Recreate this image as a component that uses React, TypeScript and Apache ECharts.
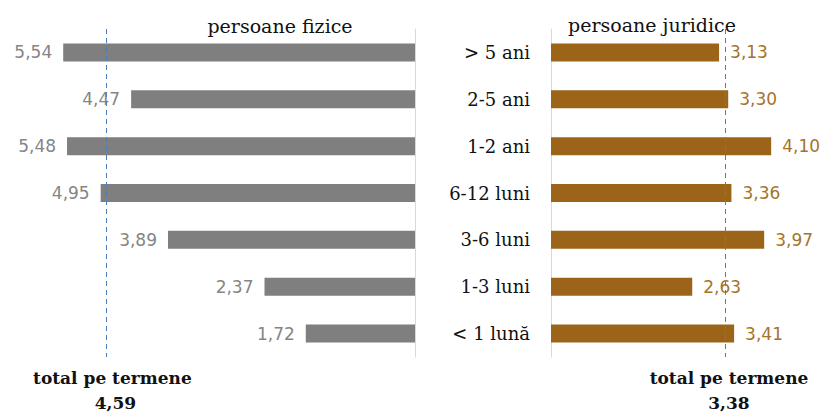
import React, { useEffect, useRef } from "react";
import * as echarts from "echarts";

const categories = ["> 5 ani", "2-5 ani", "1-2 ani", "6-12 luni", "3-6 luni", "1-3 luni", "< 1 lună"];
const fiziceValues = [5.54, 4.47, 5.48, 4.95, 3.89, 2.37, 1.72];
const juridiceValues = [3.13, 3.3, 4.1, 3.36, 3.97, 2.63, 3.41];
const panelTitles = ["persoane fizice", "persoane juridice"];
const totalLabel = "total pe termene";
const totals = [4.59, 3.38];
// position of the dashed reference lines as drawn in the source picture (read on each bar scale)
const markerPositions = [4.86, 3.24];

const fmt = (v: number) => v.toFixed(2).replace(".", ",");

const SERIF = "DejaVu Serif";
const SANS = "DejaVu Sans";

export default function App() {
  const ref = useRef<HTMLDivElement>(null);
  useEffect(() => {
    if (!ref.current) return;
    const chart = echarts.init(ref.current, null, { renderer: "svg" });
    const dash = {
      silent: true,
      symbol: "none",
      lineStyle: { color: "#4a7fbf", type: [5, 4] as any, width: 1 },
      label: { show: false },
    };
    chart.setOption({
      animation: false,
      grid: [
        { left: 34, width: 381, top: 29, height: 328 },
        { left: 551, width: 268.5, top: 29, height: 328 },
      ],
      xAxis: [
        { gridIndex: 0, type: "value", min: 0, max: 6, inverse: true, show: false },
        { gridIndex: 1, type: "value", min: 0, max: 5, show: false },
      ],
      yAxis: [
        {
          gridIndex: 0,
          type: "category",
          data: categories,
          inverse: true,
          position: "right",
          axisLine: { show: true, lineStyle: { color: "#d9d9d9" } },
          axisTick: { show: false },
          axisLabel: { show: false },
        },
        {
          gridIndex: 1,
          type: "category",
          data: categories,
          inverse: true,
          position: "left",
          axisLine: { show: true, lineStyle: { color: "#d9d9d9" } },
          axisTick: { show: false },
          axisLabel: { show: true, color: "#111", fontFamily: SERIF, fontSize: 18, margin: 21 },
        },
      ],
      series: [
        {
          type: "bar",
          xAxisIndex: 0,
          yAxisIndex: 0,
          data: fiziceValues,
          barWidth: 18,
          itemStyle: { color: "#7f7f7f" },
          label: {
            show: true,
            position: "left",
            distance: 11,
            color: "#858585",
            fontFamily: SANS,
            fontSize: 17,
            formatter: (p: any) => fmt(p.value),
          },
          markLine: { ...dash, data: [{ xAxis: markerPositions[0] }] },
        },
        {
          type: "bar",
          xAxisIndex: 1,
          yAxisIndex: 1,
          data: juridiceValues,
          barWidth: 18,
          itemStyle: { color: "#9c6419" },
          label: {
            show: true,
            position: "right",
            distance: 11,
            color: "#a5742a",
            fontFamily: SANS,
            fontSize: 17,
            formatter: (p: any) => fmt(p.value),
          },
          markLine: { ...dash, data: [{ xAxis: markerPositions[1] }] },
        },
      ],
    });
    const x0 = chart.convertToPixel({ xAxisIndex: 0 }, markerPositions[0]) as number;
    const x1 = chart.convertToPixel({ xAxisIndex: 1 }, markerPositions[1]) as number;
    const titleStyle = { fill: "#111", font: `19px "${SERIF}"`, align: "center", verticalAlign: "middle" };
    const totStyle = { fill: "#111", font: `bold 17px "${SERIF}"`, align: "center", verticalAlign: "middle" };
    chart.setOption({
      graphic: [
        { type: "text", x: 280, y: 26, style: { ...titleStyle, text: panelTitles[0] } },
        { type: "text", x: 652, y: 25, style: { ...titleStyle, text: panelTitles[1] } },
        { type: "text", x: x0 + 6, y: 378, style: { ...totStyle, text: totalLabel } },
        { type: "text", x: x0 + 9, y: 403, style: { ...totStyle, text: fmt(totals[0]) } },
        { type: "text", x: x1 + 4, y: 378, style: { ...totStyle, text: totalLabel } },
        { type: "text", x: x1 + 4, y: 403, style: { ...totStyle, text: fmt(totals[1]) } },
      ],
    });
    return () => chart.dispose();
  }, []);
  return <div ref={ref} style={{ position: "absolute", left: 0, top: 0, width: 821, height: 412 }} />;
}
